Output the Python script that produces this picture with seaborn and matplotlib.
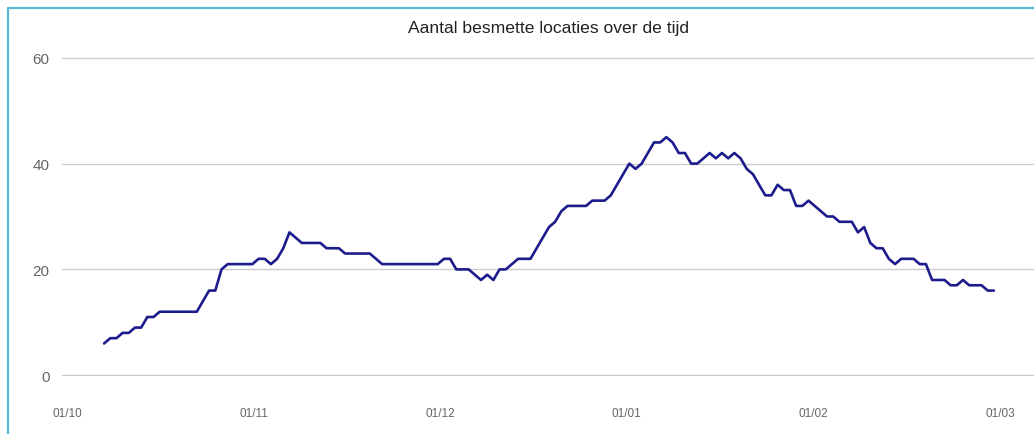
import matplotlib
matplotlib.use('Agg')
import matplotlib.pyplot as plt
from matplotlib.lines import Line2D
import pandas as pd
import seaborn as sns

# Daily counts, starting 7 October 2020
start_date = '2020-10-07'
values = [
    6, 7, 7, 8, 8, 9, 9, 11, 11, 12, 12, 12, 12, 12, 12, 12, 14, 16, 16, 20,
    21, 21, 21, 21, 21, 22, 22, 21, 22, 24, 27, 26, 25, 25, 25, 25, 24, 24, 24, 23,
    23, 23, 23, 23, 22, 21, 21, 21, 21, 21, 21, 21, 21, 21, 21, 22, 22, 20, 20, 20,
    19, 18, 19, 18, 20, 20, 21, 22, 22, 22, 24, 26, 28, 29, 31, 32, 32, 32, 32, 33,
    33, 33, 34, 36, 38, 40, 39, 40, 42, 44, 44, 45, 44, 42, 42, 40, 40, 41, 42, 41,
    42, 41, 42, 41, 39, 38, 36, 34, 34, 36, 35, 35, 32, 32, 33, 32, 31, 30, 30, 29,
    29, 29, 27, 28, 25, 24, 24, 22, 21, 22, 22, 22, 21, 21, 18, 18, 18, 17, 17, 18,
    17, 17, 17, 16, 16,
]
tick_labels = ['01/10', '01/11', '01/12', '01/01', '01/02', '01/03']
y_ticks = [0, 20, 40, 60]

df = pd.DataFrame({
    'datum': pd.date_range(start_date, periods=len(values), freq='D'),
    'locaties': values,
})

sns.set_style('white')
plt.rcParams['font.family'] = ['Liberation Sans', 'DejaVu Sans']

fig = plt.figure(figsize=(10.34, 4.35), dpi=100)
ax = fig.add_axes([62 / 1034, 1 - 377 / 435, 1 - 62 / 1034, (377 - 58) / 435])

sns.lineplot(data=df, x='datum', y='locaties', ax=ax, color='#1c1c8c', linewidth=1.9)

ax.set_ylim(-0.15, 60.15)
ax.set_yticks(y_ticks)
x_start = pd.Timestamp('2020-10-01')
x0 = x_start - pd.Timedelta(days=0.81)
ax.set_xlim(x0, x0 + pd.Timedelta(days=157.3))
# the source axis spaces its month labels evenly (about 30.2 days apart)
tick_pos = [x_start + pd.Timedelta(days=30.2 * i) for i in range(len(tick_labels))]
ax.set_xticks(tick_pos)
ax.set_xticklabels(tick_labels)

ax.grid(axis='y', color='#cccccc', linewidth=1)
ax.grid(axis='x', visible=False)
for s in ax.spines.values():
    s.set_visible(False)
ax.tick_params(axis='y', length=0, pad=9, labelsize=11, labelcolor='#666666')
ax.tick_params(axis='x', length=0, pad=22, labelsize=8.5, labelcolor='#666666')
ax.set_xlabel('')
ax.set_ylabel('')

fig.text(549 / 1034, 1 - 28 / 435, 'Aantal besmette locaties over de tijd',
         ha='center', va='center', fontsize=12.6, color='#222222')

# light blue frame, cut off at right and bottom
fig.add_artist(Line2D([8 / 1034, 8 / 1034], [0, 1 - 9 / 435], color='#5ab8d4', linewidth=1.6))
fig.add_artist(Line2D([8 / 1034, 1], [1 - 9 / 435, 1 - 9 / 435], color='#5ab8d4', linewidth=1.6))

fig.savefig('out.png', dpi=100)
